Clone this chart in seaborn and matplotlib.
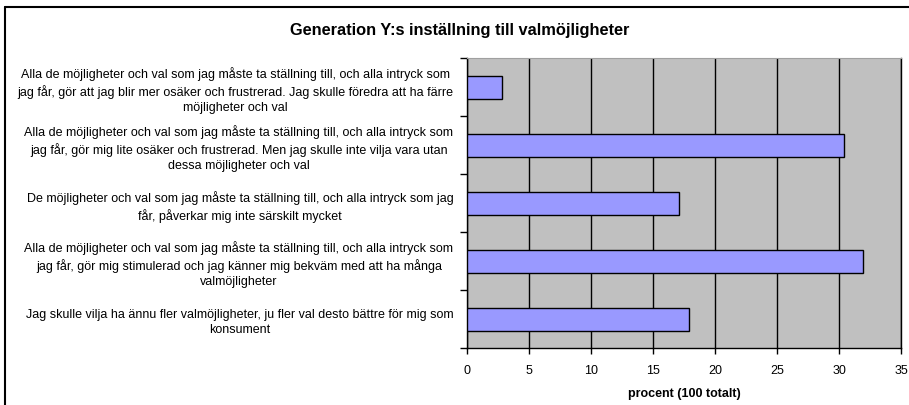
import matplotlib
matplotlib.use("Agg")
import matplotlib.pyplot as plt
from matplotlib.lines import Line2D
from matplotlib.ticker import FixedLocator
import seaborn as sns
import pandas as pd

title = "Generation Y:s inställning till valmöjligheter"
xlabel = "procent (100 totalt)"
categories = [
    "Alla de möjligheter och val som jag måste ta ställning till, och alla intryck som\njag får, gör att jag blir mer osäker och frustrerad. Jag skulle föredra att ha färre\nmöjligheter och val",
    "Alla de möjligheter och val som jag måste ta ställning till, och alla intryck som\njag får, gör mig lite osäker och frustrerad. Men jag skulle inte vilja vara utan\ndessa möjligheter och val",
    "De möjligheter och val som jag måste ta ställning till, och alla intryck som jag\nfår, påverkar mig inte särskilt mycket",
    "Alla de möjligheter och val som jag måste ta ställning till, och alla intryck som\njag får, gör mig stimulerad och jag känner mig bekväm med att ha många\nvalmöjligheter",
    "Jag skulle vilja ha ännu fler valmöjligheter, ju fler val desto bättre för mig som\nkonsument",
]
values = [2.8, 30.4, 17.1, 31.9, 17.9]
xticks = [0, 5, 10, 15, 20, 25, 30, 35]

sns.set_theme(style="white")
plt.rcParams["font.family"] = ["Liberation Sans", "DejaVu Sans"]
plt.rcParams["text.color"] = "black"
plt.rcParams["axes.labelcolor"] = "black"
plt.rcParams["xtick.color"] = "black"
plt.rcParams["ytick.color"] = "black"

df = pd.DataFrame({"kategori": categories, "procent": values})

fig = plt.figure(figsize=(9.09, 4.05), dpi=100)
ax = fig.add_axes([467.3 / 909, 1 - 348.3 / 405, (901 - 467.3) / 909, (348.3 - 58.3) / 405])
ax.set_facecolor("#C0C0C0")

sns.barplot(data=df, x="procent", y="kategori", orient="h", color="#9999FF",
            saturation=1, edgecolor="black", linewidth=1, width=0.4, ax=ax, zorder=3)

ax.set_xlim(0, 35)
ax.set_ylim(4.5, -0.5)
ax.set_xticks(xticks)
ax.set_xticklabels([str(t) for t in xticks], fontsize=9)
ax.xaxis.grid(True, color="black", linewidth=1)
ax.yaxis.grid(False)
ax.set_axisbelow(True)

ax.set_yticks(range(len(categories)))
ax.set_yticklabels(categories, fontsize=9, multialignment="center", linespacing=1.38)
ax.tick_params(axis="y", which="major", length=0, pad=10)
ax.yaxis.set_minor_locator(FixedLocator([-0.5, 0.5, 1.5, 2.5, 3.5, 4.5]))
ax.tick_params(axis="y", which="minor", left=True, length=5, width=1, color="black", direction="out")
ax.tick_params(axis="x", which="major", bottom=True, length=4, width=1, color="black",
               direction="out", pad=8)

ax.set_ylabel("")
ax.set_xlabel(xlabel, fontsize=9, fontweight="bold", labelpad=8)

for side in ["left", "bottom", "right"]:
    ax.spines[side].set_visible(True)
    ax.spines[side].set_color("black")
    ax.spines[side].set_linewidth(1)
ax.spines["top"].set_visible(True)
ax.spines["top"].set_color("#A0A0A0")
ax.spines["top"].set_linewidth(0.8)

fig.text(460 / 909, 1 - 31 / 405, title, ha="center", va="center",
         fontsize=11.8, fontweight="bold")

# outer chart border (top and left visible)
fig.add_artist(Line2D([4.5 / 909, 4.5 / 909], [0, 1 - 7 / 405], transform=fig.transFigure,
                      color="black", linewidth=1.5))
fig.add_artist(Line2D([4.5 / 909, 1], [1 - 7 / 405, 1 - 7 / 405], transform=fig.transFigure,
                      color="black", linewidth=1.5))

fig.savefig("out.png", dpi=100)
